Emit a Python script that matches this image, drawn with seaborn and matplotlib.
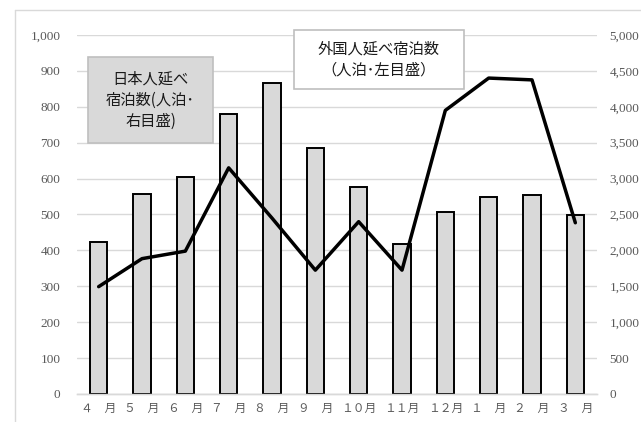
import matplotlib
matplotlib.use("Agg")
import matplotlib.pyplot as plt
import seaborn as sns
import pandas as pd
from matplotlib.patches import Rectangle
from matplotlib.lines import Line2D

months = ["４　月", "５　月", "６　月", "７　月", "８　月", "９　月",
          "１０月", "１１月", "１２月", "１　月", "２　月", "３　月"]
japanese = [2115, 2780, 3020, 3900, 4325, 3425, 2880, 2090, 2535, 2740, 2765, 2495]
foreign = [299, 377, 398, 630, 490, 345, 480, 345, 790, 880, 875, 477]
left_ticks = [0, 100, 200, 300, 400, 500, 600, 700, 800, 900, 1000]
right_ticks = [0, 500, 1000, 1500, 2000, 2500, 3000, 3500, 4000, 4500, 5000]

df = pd.DataFrame({"month": months, "japanese": japanese, "foreign": foreign})

sns.set_theme(style="white")
plt.rcParams["font.family"] = ["Noto Sans CJK JP", "DejaVu Sans"]

fig = plt.figure(figsize=(6.41, 4.22), dpi=100)
ax = fig.add_axes([77/641, 1-394/422, (597-77)/641, (394-35)/422])
ax2 = ax.twinx()

# bars on the right axis (behind)
sns.barplot(data=df, x="month", y="japanese", ax=ax2, color="#d9d9d9",
            edgecolor="black", linewidth=1.4, width=0.4, saturation=1, zorder=3)
ax2.set_ylim(0, 5000)
ax2.set_yticks(right_ticks)
ax2.set_yticklabels([f"{v:,}" for v in right_ticks])
ax2.grid(axis="y", color="#d9d9d9", linewidth=1.0, zorder=0)
ax2.set_axisbelow(True)
ax2.set_ylabel("")
ax2.set_xlabel("")

# line on the left axis (front)
sns.pointplot(data=df, x="month", y="foreign", ax=ax, color="black",
              markers="", linestyles="-", linewidth=2.5)
ax.set_ylim(0, 1000)
ax.set_yticks(left_ticks)
ax.set_yticklabels([f"{v:,}" for v in left_ticks])
ax.set_xlim(-0.5, 11.5)
ax.set_ylabel("")
ax.set_xlabel("")
ax.set_zorder(ax2.get_zorder() + 1)
ax.patch.set_visible(False)

for a in (ax, ax2):
    for s in ("left", "right", "top"):
        a.spines[s].set_visible(False)
    a.spines["bottom"].set_color("#d9d9d9")
    a.spines["bottom"].set_linewidth(1.0)

serif = ["Liberation Serif", "Noto Sans CJK JP"]
ax.tick_params(axis="y", length=0, pad=12, labelcolor="#595959")
ax2.tick_params(axis="y", length=0, pad=9, labelcolor="#595959")
for lab in ax.get_yticklabels() + ax2.get_yticklabels():
    lab.set_family(serif)
    lab.set_fontsize(9.5)
ax.set_xticks(range(len(months)))
ax.set_xticklabels(months)
ax.tick_params(axis="x", length=0, pad=6, labelcolor="#595959")
for lab in ax.get_xticklabels():
    lab.set_family(["Noto Sans CJK JP"])
    lab.set_fontsize(8.5)
ax2.tick_params(axis="x", length=0, labelbottom=False)

# chart border (partially visible)
fig.add_artist(Line2D([15/641, 15/641], [0, 1-10/422], transform=fig.transFigure,
                      color="#d9d9d9", linewidth=1.0))
fig.add_artist(Line2D([15/641, 1], [1-10/422, 1-10/422], transform=fig.transFigure,
                      color="#d9d9d9", linewidth=1.0))

# annotation boxes
def box(x0, y0, x1, y1, face, text):
    fig.add_artist(Rectangle((x0/641, 1-y1/422), (x1-x0)/641, (y1-y0)/422,
                             transform=fig.transFigure, facecolor=face,
                             edgecolor="#bfbfbf", linewidth=1.2, zorder=10))
    fig.text((x0+x1)/2/641, 1-(y0+y1)/2/422, text, ha="center", va="center",
             fontsize=11, linespacing=1.3, color="#1a1a1a", zorder=11,
             family=["Noto Sans CJK JP", "DejaVu Sans"])

box(88, 57, 213, 143, "#d9d9d9", "日本人延べ\n宿泊数(人泊･\n右目盛)")
box(294, 30, 464, 89, "white", "外国人延べ宿泊数\n（人泊･左目盛）")

fig.savefig("out.png", dpi=100)
